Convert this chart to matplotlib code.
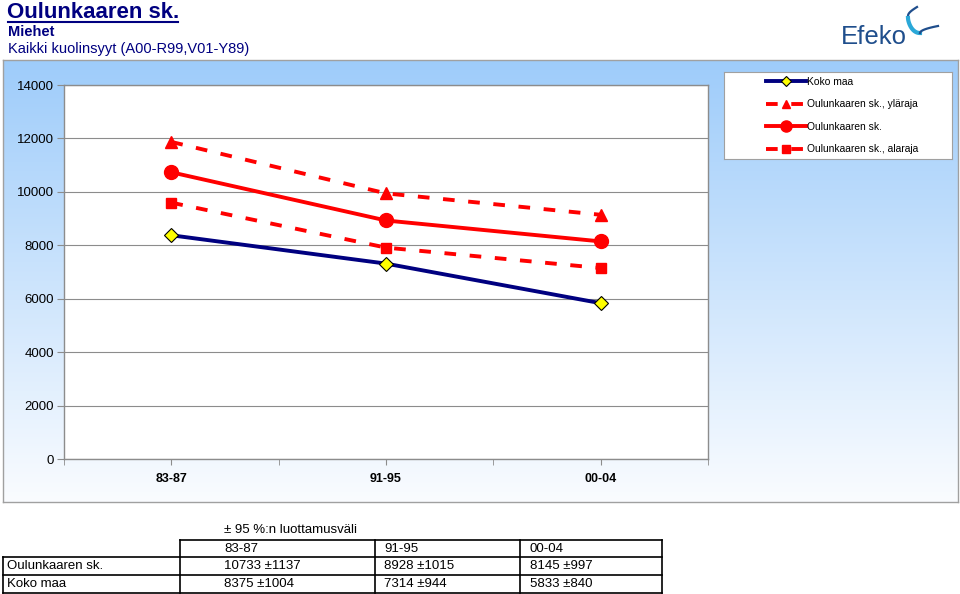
import numpy as np
import matplotlib
matplotlib.use('Agg')
import matplotlib.pyplot as plt
from matplotlib.ticker import MultipleLocator
from matplotlib import font_manager

# Data
periods = ['83-87', '91-95', '00-04']
koko_maa = [8375, 7314, 5833]
oulu_upper = [11870, 9943, 9142]
oulu = [10733, 8928, 8145]
oulu_lower = [9596, 7913, 7148]
oulu_ci = [1137, 1015, 997]
koko_ci = [1004, 944, 840]

# Text
TITLE = 'Oulunkaaren sk.'
SUBTITLE = 'Miehet'
CAUSE = 'Kaikki kuolinsyyt (A00-R99,V01-Y89)'
LABELS = ['Koko maa', 'Oulunkaaren sk., yläraja', 'Oulunkaaren sk.', 'Oulunkaaren sk., alaraja']
CI_TITLE = '± 95 %:n luottamusväli'

# Colours
NAVY = '#000080'
RED = '#FF0000'
GRID = '#8c8c8c'
LOGO_BLUE = '#1f4e8c'
LOGO_CYAN = '#2aa8d8'

W, H = 960, 594
plt.rcParams['font.family'] = ['Liberation Sans', 'DejaVu Sans']

# Narrow font for the legend if there is one
names = {f.name for f in font_manager.fontManager.ttflist}
if 'Liberation Sans Narrow' in names:
    legend_font = dict(family='Liberation Sans Narrow', size=8.6)
else:
    legend_font = dict(family='Liberation Sans', size=7.4)


def fx(px):
    return np.asarray(px) / W


def fy(py):
    return 1 - np.asarray(py) / H


fig = plt.figure(figsize=(9.6, 5.94), dpi=100)
fig.patch.set_facecolor('white')

# Chart frame with gradient
bg = fig.add_axes([fx(3), fy(502), fx(955), (502 - 60) / H])
grad = np.linspace(0, 1, 256).reshape(-1, 1)
top = np.array([158, 204, 250]) / 255
bottom = np.array([250, 252, 255]) / 255
img = top[None, None, :] * (1 - grad[:, :, None]) + bottom[None, None, :] * grad[:, :, None]
bg.imshow(img, aspect='auto', extent=[0, 1, 0, 1])
bg.set_xticks([])
bg.set_yticks([])
for s in bg.spines.values():
    s.set_color('#a0a0a0')
    s.set_linewidth(1)

# Plot area
ax = fig.add_axes([fx(64), fy(459), fx(708 - 64), (459 - 85) / H])
ax.set_facecolor('white')
x = np.arange(len(periods))
ax.plot(x, koko_maa, color=NAVY, lw=2.8, marker='D', ms=7, mfc='#FFFF00', mec='black', mew=0.8,
        label=LABELS[0], zorder=5)
ax.plot(x, oulu_upper, color=RED, lw=2.8, ls=(0, (3, 3.5)), marker='^', ms=8, mfc=RED, mec=RED,
        label=LABELS[1], zorder=4)
ax.plot(x, oulu, color=RED, lw=2.8, marker='o', ms=10, mfc=RED, mec=RED, label=LABELS[2], zorder=4)
ax.plot(x, oulu_lower, color=RED, lw=2.8, ls=(0, (3, 3.5)), marker='s', ms=7, mfc=RED, mec=RED,
        label=LABELS[3], zorder=4)
ax.set_xlim(-0.5, len(periods) - 0.5)
ax.set_ylim(0, 14000)
ax.yaxis.set_major_locator(MultipleLocator(2000))
ax.grid(axis='y', color=GRID, lw=0.8)
ax.set_axisbelow(True)
ax.set_xticks(x)
ax.set_xticks(np.arange(-0.5, len(periods), 0.5), minor=True)
ax.set_xticklabels(periods, fontsize=9, fontweight='bold')
ax.tick_params(axis='x', which='both', length=4, direction='out', color=GRID, pad=6)
ax.tick_params(axis='y', length=5, color=GRID, labelsize=9.5, pad=2)
for s in ax.spines.values():
    s.set_color(GRID)
    s.set_linewidth(1)

# Legend
lax = fig.add_axes([fx(724), fy(159), fx(952 - 724), (159 - 72) / H])
lax.set_xticks([])
lax.set_yticks([])
for s in lax.spines.values():
    s.set_color('#a0a0a0')
handles, labels = ax.get_legend_handles_labels()
leg = lax.legend(handles, labels, loc='center left', bbox_to_anchor=(0.165, 0.5), frameon=False,
                 prop=legend_font, handlelength=3.9, handletextpad=0.1, labelspacing=1.22,
                 borderaxespad=0, markerscale=0.8)

# Titles
fig.text(fx(7), fy(12), TITLE, fontsize=16, fontweight='bold', color=NAVY, va='center')
fig.add_artist(plt.Line2D([fx(8), fx(178)], [fy(22), fy(22)], color=NAVY, lw=1.5))
fig.text(fx(8), fy(32), SUBTITLE, fontsize=10.5, fontweight='bold', color=NAVY, va='center')
fig.text(fx(8), fy(49), CAUSE, fontsize=10.5, color=NAVY, va='center')

# Logo
fig.text(fx(841), fy(37), 'Efeko', fontsize=18.5, color=LOGO_BLUE, va='center')
t = np.linspace(0, 1, 40)
fig.add_artist(plt.Line2D(fx(917 - 9 * np.sin(t * np.pi / 2)), fy(7 + 9 * t), color=LOGO_BLUE, lw=1.6))
fig.add_artist(plt.Line2D(fx(908 + 12 * t ** 1.6), fy(18 + 15 * np.sin(t * np.pi / 2)), color=LOGO_CYAN, lw=3))
fig.add_artist(plt.Line2D(fx(920 + 18 * t), fy(33 - 7 * np.sqrt(t)), color=LOGO_BLUE, lw=1.6))

# Confidence interval table
fig.text(fx(224), fy(530), CI_TITLE, fontsize=9.5, va='center')
cols = [3, 180, 375, 520, 662]
rows = [540, 557, 575, 593]
lc = 'black'
for r in rows:
    x0 = cols[1] if r == rows[0] else cols[0]
    fig.add_artist(plt.Line2D([fx(x0), fx(cols[-1])], [fy(r), fy(r)], color=lc, lw=1.2))
for i, c in enumerate(cols):
    y0 = rows[1] if i == 0 else rows[0]
    fig.add_artist(plt.Line2D([fx(c), fx(c)], [fy(y0), fy(rows[-1])], color=lc, lw=1.2))

text_x = [224, 384, 530]
for j, p in enumerate(periods):
    fig.text(fx(text_x[j]), fy(548.5), p, fontsize=9.5, va='center')
    fig.text(fx(text_x[j]), fy(566), f'{oulu[j]} ±{oulu_ci[j]}', fontsize=9.5, va='center')
    fig.text(fx(text_x[j]), fy(584), f'{koko_maa[j]} ±{koko_ci[j]}', fontsize=9.5, va='center')
fig.text(fx(7), fy(566), 'Oulunkaaren sk.', fontsize=9.5, va='center')
fig.text(fx(7), fy(584), 'Koko maa', fontsize=9.5, va='center')

fig.savefig('out.png', dpi=100)
